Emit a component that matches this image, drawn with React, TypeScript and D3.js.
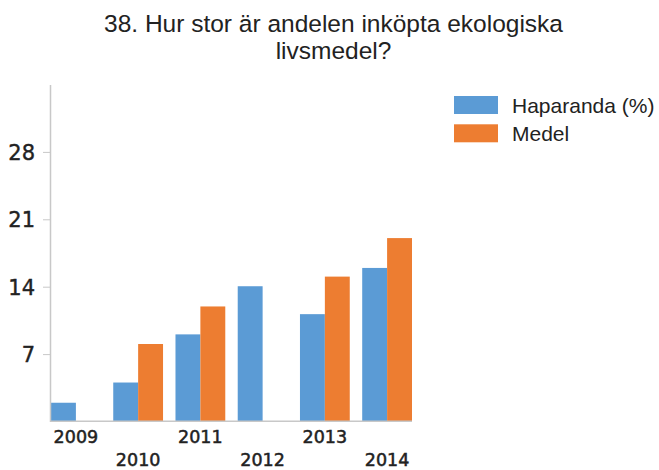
import { useEffect, useRef } from "react";
import * as d3 from "d3";

const years = ["2009", "2010", "2011", "2012", "2013", "2014"];
const haparanda = [2, 4.1, 9.1, 14.1, 11.2, 16];
const medel: (number | null)[] = [null, 8.1, 12, null, 15.1, 19.1];
const yTicks = [7, 14, 21, 28];
const seriesNames = ["Haparanda (%)", "Medel"];
const colors = ["#5b9bd5", "#ed7d31"];
const titleLines = ["38. Hur stor är andelen inköpta ekologiska", "livsmedel?"];

const App = () => {
    const ref = useRef<SVGSVGElement>(null);

    useEffect(() => {
        if (!ref.current) return;
        const svg = d3.select(ref.current);
        svg.selectAll("*").remove();

        const x0 = d3.scaleBand().domain(years).range([51, 412]).paddingInner(0.2).paddingOuter(0);
        const x1 = d3.scaleBand().domain(["0", "1"]).range([0, x0.bandwidth()]);
        const y = d3.scaleLinear().domain([0, 35]).range([422, 85]);

        // title
        svg.append("g").selectAll("text")
            .data(titleLines)
            .enter().append("text")
            .attr("x", 333.5)
            .attr("y", (d, i) => 32 + i * 26.5)
            .attr("text-anchor", "middle")
            .style("font-family", "'Liberation Sans', Arial, sans-serif")
            .style("font-size", "24.5px")
            .attr("fill", "#222")
            .text(d => d);

        // bars
        const rows = years.map((yr, i) => ({ yr, vals: [haparanda[i], medel[i]] }));
        const groups = svg.append("g").selectAll("g")
            .data(rows)
            .enter().append("g")
            .attr("transform", d => `translate(${x0(d.yr)},0)`);

        groups.selectAll("rect")
            .data(d => d.vals.map((v, k) => ({ v, k })).filter(e => e.v != null))
            .enter().append("rect")
            .attr("x", d => x1(String(d.k))!)
            .attr("width", x1.bandwidth())
            .attr("y", d => y(d.v as number))
            .attr("height", d => y(0) - y(d.v as number))
            .attr("fill", d => colors[d.k]);

        // y axis
        const axis = svg.append("g");
        axis.append("line")
            .attr("x1", 50.5).attr("x2", 50.5)
            .attr("y1", 85).attr("y2", 422)
            .attr("stroke", "#c8c8c8").attr("stroke-width", 1.5);
        axis.append("line")
            .attr("x1", 50).attr("x2", 412)
            .attr("y1", 421.3).attr("y2", 421.3)
            .attr("stroke", "#c8c8c8").attr("stroke-width", 1.5);
        axis.selectAll("line.tick")
            .data(yTicks)
            .enter().append("line")
            .attr("class", "tick")
            .attr("x1", 43).attr("x2", 50)
            .attr("y1", d => y(d)).attr("y2", d => y(d))
            .attr("stroke", "#c8c8c8").attr("stroke-width", 1);
        axis.selectAll("text")
            .data(yTicks)
            .enter().append("text")
            .attr("x", 35)
            .attr("y", d => y(d) + 7.6)
            .attr("text-anchor", "end")
            .style("font-family", "'DejaVu Sans', Verdana, sans-serif")
            .style("font-size", "21px")
            .attr("fill", "#222")
            .attr("stroke", "#222").attr("stroke-width", 0.4)
            .text(d => d);

        // x labels, staggered
        svg.append("g").selectAll("text")
            .data(years)
            .enter().append("text")
            .attr("x", d => x0(d)! + x0.bandwidth() / 2)
            .attr("y", (d, i) => (i % 2 === 0 ? 442.5 : 465.5))
            .attr("text-anchor", "middle")
            .style("font-family", "'DejaVu Sans', Verdana, sans-serif")
            .style("font-size", "17.5px")
            .attr("fill", "#222")
            .attr("stroke", "#222").attr("stroke-width", 0.5)
            .text(d => d);

        // legend
        const legend = svg.append("g").selectAll("g")
            .data(seriesNames)
            .enter().append("g")
            .attr("transform", (d, i) => `translate(454,${96 + i * 28.3})`);
        legend.append("rect")
            .attr("width", 44).attr("height", 18)
            .attr("fill", (d, i) => colors[i]);
        legend.append("text")
            .attr("x", 58).attr("y", 17)
            .style("font-family", "'Liberation Sans', Arial, sans-serif")
            .style("font-size", "21px")
            .attr("fill", "#222")
            .text(d => d);
    }, []);

    return (
        <svg
            ref={ref}
            width={659}
            height={470}
            style={{ position: "absolute", left: 0, top: 0, background: "#fff" }}
        />
    );
};

export default App;
